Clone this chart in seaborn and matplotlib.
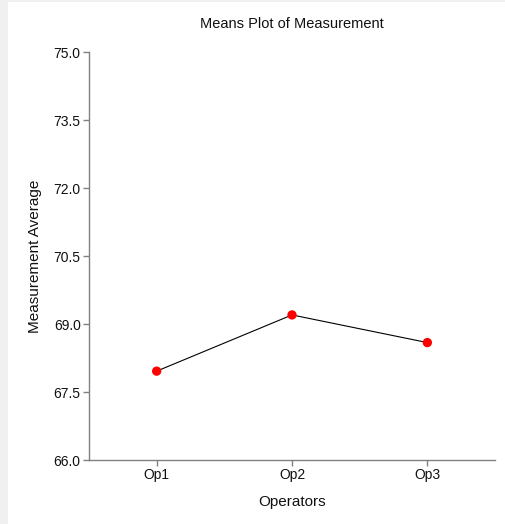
import matplotlib
matplotlib.use("Agg")
import matplotlib.pyplot as plt
import seaborn as sns
import pandas as pd
from matplotlib.patches import Rectangle

operators = ["Op1", "Op2", "Op3"]
means = [67.96, 69.20, 68.59]
yticks = [66.0, 67.5, 69.0, 70.5, 72.0, 73.5, 75.0]

sns.set_style("ticks")
plt.rcParams['font.family'] = ['Liberation Sans', 'DejaVu Sans']

df = pd.DataFrame({"Operators": operators, "Mean": means})

fig = plt.figure(figsize=(5.06, 5.24), dpi=100)
fig.patch.set_facecolor("white")
fig.patches.append(Rectangle((0, 0), 8/506, 1, transform=fig.transFigure,
                             facecolor="#f0f0f0", edgecolor="none", zorder=-1))
fig.patches.append(Rectangle((0, 1 - 2/524), 1, 2/524, transform=fig.transFigure,
                             facecolor="#f0f0f0", edgecolor="none", zorder=-1))
ax = fig.add_axes([89/506, 64/524, 406/506, 408/524])

sns.pointplot(data=df, x="Operators", y="Mean", ax=ax, color="black",
              markers="o", linestyles="-", linewidth=0.8, markersize=0,
              errorbar=None)
sns.scatterplot(data=df, x="Operators", y="Mean", ax=ax, color="red",
                s=45, edgecolor="none", zorder=5)

ax.set_xlim(-0.5, 2.5)
ax.set_ylim(66.0, 75.0)
ax.set_yticks(yticks)
ax.set_yticklabels([f"{v:.1f}" for v in yticks])
for s in ["top", "right"]:
    ax.spines[s].set_visible(False)
for s in ["left", "bottom"]:
    ax.spines[s].set_color("#808080")
    ax.spines[s].set_linewidth(1.0)
ax.tick_params(axis="both", direction="out", length=4, width=1.0,
               color="#808080", labelsize=10, pad=2, labelcolor="#111111")
ax.set_xlabel("Operators", fontsize=11, labelpad=9, color="#111111")
ax.set_ylabel("Measurement Average", fontsize=11, labelpad=8, color="#111111")
ax.set_title("Means Plot of Measurement", fontsize=10.5, pad=17, color="#111111")

fig.savefig("out.png", dpi=100)
